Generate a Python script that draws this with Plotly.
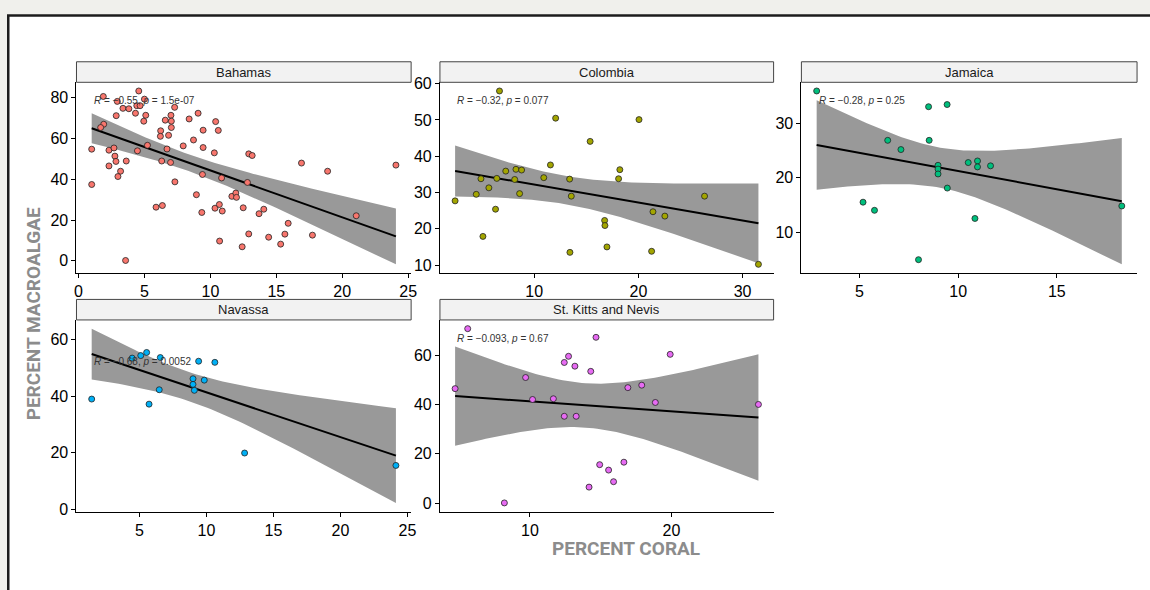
import numpy as np
import plotly.graph_objects as go

W, H = 1150, 590

# ---- data -------------------------------------------------------------
regions = ["Bahamas", "Colombia", "Jamaica", "Navassa", "St. Kitts and Nevis"]
point_colors = ["#F8766D", "#A3A500", "#00BF7D", "#00B0F6", "#E76BF3"]
stat_labels = [
    "<i>R</i> = −0.55, <i>p</i> = 1.5e-07",
    "<i>R</i> = −0.32, <i>p</i> = 0.077",
    "<i>R</i> = −0.28, <i>p</i> = 0.25",
    "<i>R</i> = −0.68, <i>p</i> = 0.0052",
    "<i>R</i> = −0.093, <i>p</i> = 0.67",
]

bahamas_coral = [1.88, 4.57, 2.94, 5.00, 3.37, 3.82, 4.42, 4.67, 7.29, 2.86,
                 4.32, 5.10, 7.01, 4.95, 6.58, 7.04, 8.39, 9.07, 10.40, 6.23,
                 7.04, 9.45, 10.60, 1.91, 1.68, 6.21, 6.83, 8.72, 7.94, 5.23,
                 9.45, 6.71, 10.30, 1.00, 2.31, 2.69, 4.47, 2.76, 2.84, 3.62,
                 6.31, 6.98, 2.31, 3.19, 2.99, 9.40, 10.85, 7.31, 1.00, 8.94,
                 11.63, 11.93, 11.98, 5.88, 6.36, 9.35, 10.35, 10.68, 10.90, 12.49,
                 10.70, 12.41, 3.57, 12.91, 13.17, 16.91, 18.89, 24.07, 12.81, 14.05,
                 13.69, 15.90, 12.91, 15.65, 14.42, 17.74, 21.06, 15.33]
bahamas_macro = [80.5, 83.2, 78.1, 79.2, 74.7, 74.5, 76.0, 76.0, 75.2, 71.1,
                 72.3, 71.3, 71.3, 68.4, 68.9, 68.4, 69.5, 72.3, 68.2, 63.7,
                 65.3, 64.0, 63.9, 66.9, 65.3, 61.0, 61.5, 59.2, 56.3, 56.6,
                 55.5, 54.8, 52.9, 54.7, 54.2, 55.3, 53.9, 51.3, 48.7, 48.9,
                 48.9, 48.2, 46.5, 43.9, 41.3, 42.3, 40.6, 38.7, 37.4, 32.4,
                 31.6, 33.2, 31.1, 26.3, 27.1, 23.7, 25.8, 27.6, 24.4, 26.0,
                 9.7, 6.9, 0.2, 52.4, 51.6, 47.9, 43.9, 46.9, 38.4, 25.3,
                 23.1, 18.4, 13.2, 13.1, 11.6, 12.6, 22.1, 8.2]

colombia_coral = [2.41, 6.67, 4.44, 4.89, 5.08, 5.65, 6.29, 7.27, 6.41, 8.13,
                  8.25, 8.79, 8.60, 10.92, 11.56, 12.06, 13.40, 13.56, 13.43, 15.37,
                  16.76, 16.79, 16.98, 18.10, 18.22, 20.06, 21.27, 21.40, 22.54, 26.35,
                  31.52]
colombia_macro = [27.7, 58.0, 29.5, 33.8, 17.9, 31.3, 25.4, 35.9, 33.9, 33.6,
                  36.4, 36.2, 29.7, 34.1, 37.6, 50.5, 33.7, 29.0, 13.5, 44.1,
                  22.3, 20.9, 15.0, 33.8, 36.3, 50.1, 13.8, 24.7, 23.5, 29.0,
                  10.2]

jamaica_coral = [2.83, 8.50, 9.44, 6.43, 8.53, 7.10, 10.51, 10.98, 10.98, 11.64,
                 8.98, 8.98, 8.98, 9.45, 5.18, 5.76, 10.85, 7.99, 18.29]
jamaica_macro = [36.0, 33.1, 33.5, 26.9, 26.9, 25.2, 22.8, 23.1, 22.0, 22.2,
                 22.3, 21.6, 20.7, 18.1, 15.5, 14.0, 12.5, 4.9, 14.8]

navassa_coral = [1.44, 4.46, 5.10, 5.54, 6.56, 5.72, 6.48, 9.42, 10.63, 9.00,
                 9.00, 9.10, 9.84, 12.85, 24.14]
navassa_macro = [39.0, 53.5, 54.4, 55.5, 53.7, 37.2, 42.3, 52.4, 52.0, 46.2,
                 44.2, 42.1, 45.7, 19.9, 15.5]

stkitts_coral = [4.72, 5.61, 8.20, 9.70, 10.19, 11.66, 12.43, 12.73, 13.18, 12.43,
                 13.27, 14.30, 14.67, 14.18, 14.93, 15.56, 15.91, 16.64, 16.92, 17.90,
                 18.86, 19.91, 26.14]
stkitts_macro = [46.4, 70.7, 0.1, 50.9, 42.0, 42.3, 57.0, 59.5, 55.5, 35.2,
                 35.2, 53.4, 67.2, 6.5, 15.6, 13.4, 8.7, 16.6, 46.8, 47.8,
                 40.8, 60.3, 40.0]

coral = [bahamas_coral, colombia_coral, jamaica_coral, navassa_coral, stkitts_coral]
macro = [bahamas_macro, colombia_macro, jamaica_macro, navassa_macro, stkitts_macro]

x_dtick = [5, 10, 5, 5, 10]
y_dtick = [20, 10, 10, 20, 20]

# ---- panel geometry (pixels) -----------------------------------------
col_px = [(75, 412), (441, 777), (805, 1143)]
row_px = [(77, 272), (320, 516)]
strip_h = 21
panel_pos = [(0, 0), (0, 1), (0, 2), (1, 0), (1, 1)]

TICK_FONT = "Liberation Sans, Arial"
TITLE_FONT = "Roboto, Liberation Sans, Arial"


def t_quantile_975(df):
    """Cornish-Fisher approximation of the Student t 0.975 quantile."""
    z = 1.959963985
    g1 = (z**3 + z) / 4
    g2 = (5 * z**5 + 16 * z**3 + 3 * z) / 96
    g3 = (3 * z**7 + 19 * z**5 + 17 * z**3 - 15 * z) / 384
    g4 = (79 * z**9 + 776 * z**7 + 1482 * z**5 - 1920 * z**3 - 945 * z) / 92160
    return z + g1 / df + g2 / df**2 + g3 / df**3 + g4 / df**4


def lm_band(x, y, n=80):
    x = np.asarray(x, float)
    y = np.asarray(y, float)
    slope, intercept = np.polyfit(x, y, 1)
    dof = len(x) - 2
    s = np.sqrt(np.sum((y - (intercept + slope * x)) ** 2) / dof)
    xs = np.linspace(x.min(), x.max(), n)
    fit = intercept + slope * xs
    se = s * np.sqrt(1 / len(x) + (xs - x.mean()) ** 2 / np.sum((x - x.mean()) ** 2))
    t = t_quantile_975(dof)
    return xs, fit, fit - t * se, fit + t * se


def expand(lo, hi, frac=0.05):
    span = hi - lo
    return [lo - frac * span, hi + frac * span]


fig = go.Figure()
annotations = []
shapes = []

# page frame
shapes.append(dict(type="rect", xref="paper", yref="paper",
                   x0=6.3 / W, x1=1.2, y0=-0.2, y1=1 - 8.7 / H,
                   fillcolor="white", line=dict(color="#1c1c1c", width=2.5),
                   layer="below"))

for i, (name, col, xs_data, ys_data) in enumerate(zip(regions, point_colors, coral, macro)):
    sfx = "" if i == 0 else str(i + 1)
    r, c = panel_pos[i]
    (px0, px1), (py0, py1) = col_px[c], row_px[r]

    xs, fit, lo, hi = lm_band(xs_data, ys_data)

    fig.add_trace(go.Scatter(
        x=np.concatenate([xs, xs[::-1]]), y=np.concatenate([hi, lo[::-1]]),
        fill="toself", fillcolor="#999999", line=dict(width=0), mode="lines",
        hoverinfo="skip", showlegend=False, xaxis="x" + sfx, yaxis="y" + sfx))
    fig.add_trace(go.Scatter(
        x=xs, y=fit, mode="lines", line=dict(color="black", width=2),
        hoverinfo="skip", showlegend=False, xaxis="x" + sfx, yaxis="y" + sfx))
    fig.add_trace(go.Scatter(
        x=xs_data, y=ys_data, mode="markers", name=name, showlegend=False,
        marker=dict(size=6, color=col, line=dict(color="#222222", width=0.8)),
        xaxis="x" + sfx, yaxis="y" + sfx))

    xr = expand(min(xs_data), max(xs_data))
    yr = expand(min(min(ys_data), lo.min()), max(max(ys_data), hi.max()))

    axis_common = dict(showline=True, linecolor="black", linewidth=1,
                       ticks="outside", ticklen=4, tickcolor="black", tickwidth=1,
                       showgrid=False, zeroline=False,
                       tickfont=dict(family=TICK_FONT, size=16, color="black"))
    fig.layout["xaxis" + sfx] = dict(domain=[px0 / W, px1 / W], anchor="y" + sfx,
                                     range=xr, dtick=x_dtick[i], tick0=0, **axis_common)
    fig.layout["yaxis" + sfx] = dict(domain=[1 - py1 / H, 1 - py0 / H], anchor="x" + sfx,
                                     range=yr, dtick=y_dtick[i], tick0=0, **axis_common)

    # facet strip
    shapes.append(dict(type="rect", xref="paper", yref="paper",
                       x0=px0 / W, x1=px1 / W, y0=1 - py0 / H, y1=1 - (py0 - strip_h) / H,
                       fillcolor="#F2F2F2", line=dict(color="#444444", width=1)))
    annotations.append(dict(xref="paper", yref="paper", x=(px0 + px1) / 2 / W,
                            y=1 - (py0 - strip_h / 2) / H, text=name, showarrow=False,
                            xanchor="center", yanchor="middle",
                            font=dict(family="Liberation Sans, Arial", size=13, color="#1a1a1a")))

    # correlation label
    annotations.append(dict(xref="x" + sfx, yref="y" + sfx, x=min(xs_data), y=max(ys_data),
                            text=stat_labels[i], showarrow=False, xanchor="left",
                            yanchor="top", yshift=-2,
                            font=dict(family="Liberation Sans, Arial", size=10, color="#333333")))

# axis titles
annotations.append(dict(xref="paper", yref="paper", x=31.5 / W, y=1 - 314 / H,
                        text="<b>PERCENT MACROALGAE</b>", textangle=-90, showarrow=False,
                        xanchor="center", yanchor="middle", borderpad=0,
                        font=dict(family=TITLE_FONT, size=19, color="#8c8c8c")))
annotations.append(dict(xref="paper", yref="paper", x=628 / W, y=1 - 554 / H,
                        text="<b>PERCENT CORAL</b>", showarrow=False,
                        xanchor="center", yanchor="middle", borderpad=0,
                        font=dict(family=TITLE_FONT, size=19, color="#8c8c8c")))

fig.update_layout(width=W, height=H, margin=dict(l=0, r=0, t=0, b=0),
                  paper_bgcolor="#f0f0ec", plot_bgcolor="rgba(0,0,0,0)",
                  shapes=shapes, annotations=annotations, showlegend=False)

# the figure fills the page exactly, so drop the default body margin
fig.write_html("out.html",
               post_script="document.body.style.margin='0';"
                           "document.body.style.overflow='hidden';")
